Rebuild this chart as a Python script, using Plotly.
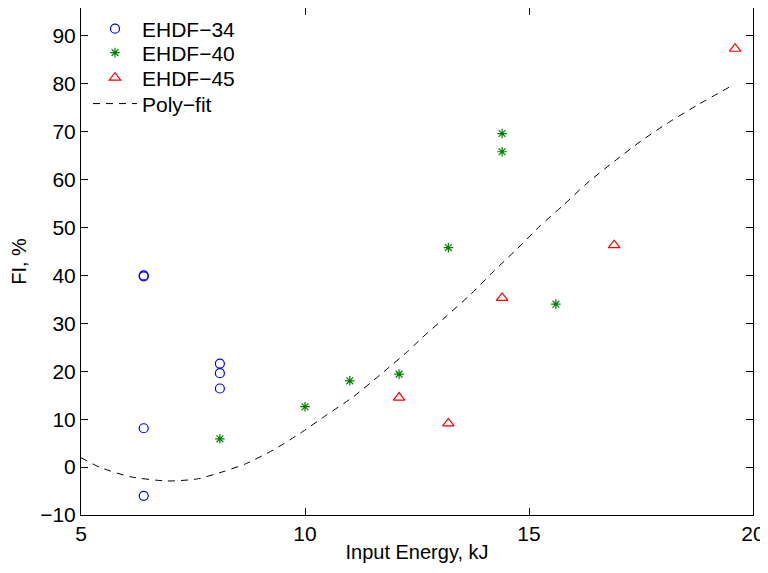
import plotly.graph_objects as go

# --- data ---
s34_x = [6.4, 6.4, 6.4, 6.4, 8.1, 8.1, 8.1]
s34_y = [40.0, 39.8, 8.1, -6.0, 21.6, 19.6, 16.4]

s40_x = [8.1, 10.0, 11.0, 12.1, 13.2, 14.4, 14.4, 15.6]
s40_y = [5.9, 12.6, 18.0, 19.4, 45.8, 69.6, 65.8, 34.0]

s45_x = [12.1, 13.2, 14.4, 16.9, 19.6]
s45_y = [14.5, 9.1, 35.3, 46.3, 87.3]

poly_x = [5.0, 5.42, 6.09, 6.91, 7.58, 8.17, 8.70, 9.29, 9.89, 10.48, 11.08, 11.67,
          12.31, 12.60, 13.16, 13.68, 14.20, 14.73, 15.25, 15.77, 16.29, 16.89,
          17.48, 18.08, 18.75, 19.59]
poly_y = [1.96, -0.05, -2.0, -2.9, -2.5, -0.97, 0.78, 3.56, 7.04, 10.86, 14.68, 19.2,
          24.28, 26.87, 31.52, 35.9, 40.76, 45.5, 50.36, 54.68, 59.2, 63.7,
          67.9, 71.7, 75.5, 79.9]

x_ticks = [5, 10, 15, 20]
y_ticks = [-10, 0, 10, 20, 30, 40, 50, 60, 70, 80, 90]

FONT = "Liberation Sans, Arial, Helvetica, sans-serif"

fig = go.Figure()
fig.add_trace(go.Scatter(
    x=s34_x, y=s34_y, mode="markers", name="EHDF\u221234", legend="legend",
    marker=dict(symbol="circle-open", size=9, color="#0000ff", line=dict(width=1.2, color="#0000ff")),
))
fig.add_trace(go.Scatter(
    x=s40_x, y=s40_y, mode="markers", name="EHDF\u221240", legend="legend2",
    marker=dict(symbol="asterisk-open", size=8, color="#008000", line=dict(width=1.2, color="#008000")),
))
fig.add_trace(go.Scatter(
    x=s45_x, y=s45_y, mode="markers", name="EHDF\u221245", legend="legend3",
    marker=dict(symbol="triangle-up-open", size=10, color="#ff0000", line=dict(width=1.2, color="#ff0000")),
))
fig.add_trace(go.Scatter(
    x=poly_x, y=poly_y, mode="lines", name="Poly\u2212fit", legend="legend4",
    line=dict(color="black", width=1, dash="7px,6px", shape="spline", smoothing=0.6),
))

axis_common = dict(
    showline=True, linecolor="black", linewidth=1, mirror="ticks",
    ticks="inside", ticklen=7, tickwidth=1, tickcolor="black",
    showgrid=False, zeroline=False, automargin=False,
    tickfont=dict(family=FONT, size=21, color="black"),
)


def leg(ypos):
    return dict(x=0.0104, y=ypos, xanchor="left", yanchor="middle",
                bgcolor="rgba(0,0,0,0)", borderwidth=0,
                font=dict(family=FONT, size=21, color="black"),
                itemwidth=44)


# page body adds an 8px offset, so the figure is 8px smaller than the window
fig.update_layout(
    width=760, height=565,
    margin=dict(l=73, r=15, t=0, b=58),
    paper_bgcolor="white", plot_bgcolor="white",
    font=dict(family=FONT, size=20, color="black"),
    xaxis=dict(range=[5, 20], tickvals=x_ticks, ticktext=[str(v) for v in x_ticks],
               title=dict(text="Input Energy, kJ", font=dict(family=FONT, size=20), standoff=0),
               **axis_common),
    yaxis=dict(range=[-10, 95.8], tickvals=y_ticks,
               title=dict(text="FI, %", font=dict(family=FONT, size=20), standoff=8),
               **axis_common),
    legend=leg(0.9586),
    legend2=leg(0.9113),
    legend3=leg(0.862),
    legend4=leg(0.8108),
    showlegend=True,
)

fig.write_html("out.html")
